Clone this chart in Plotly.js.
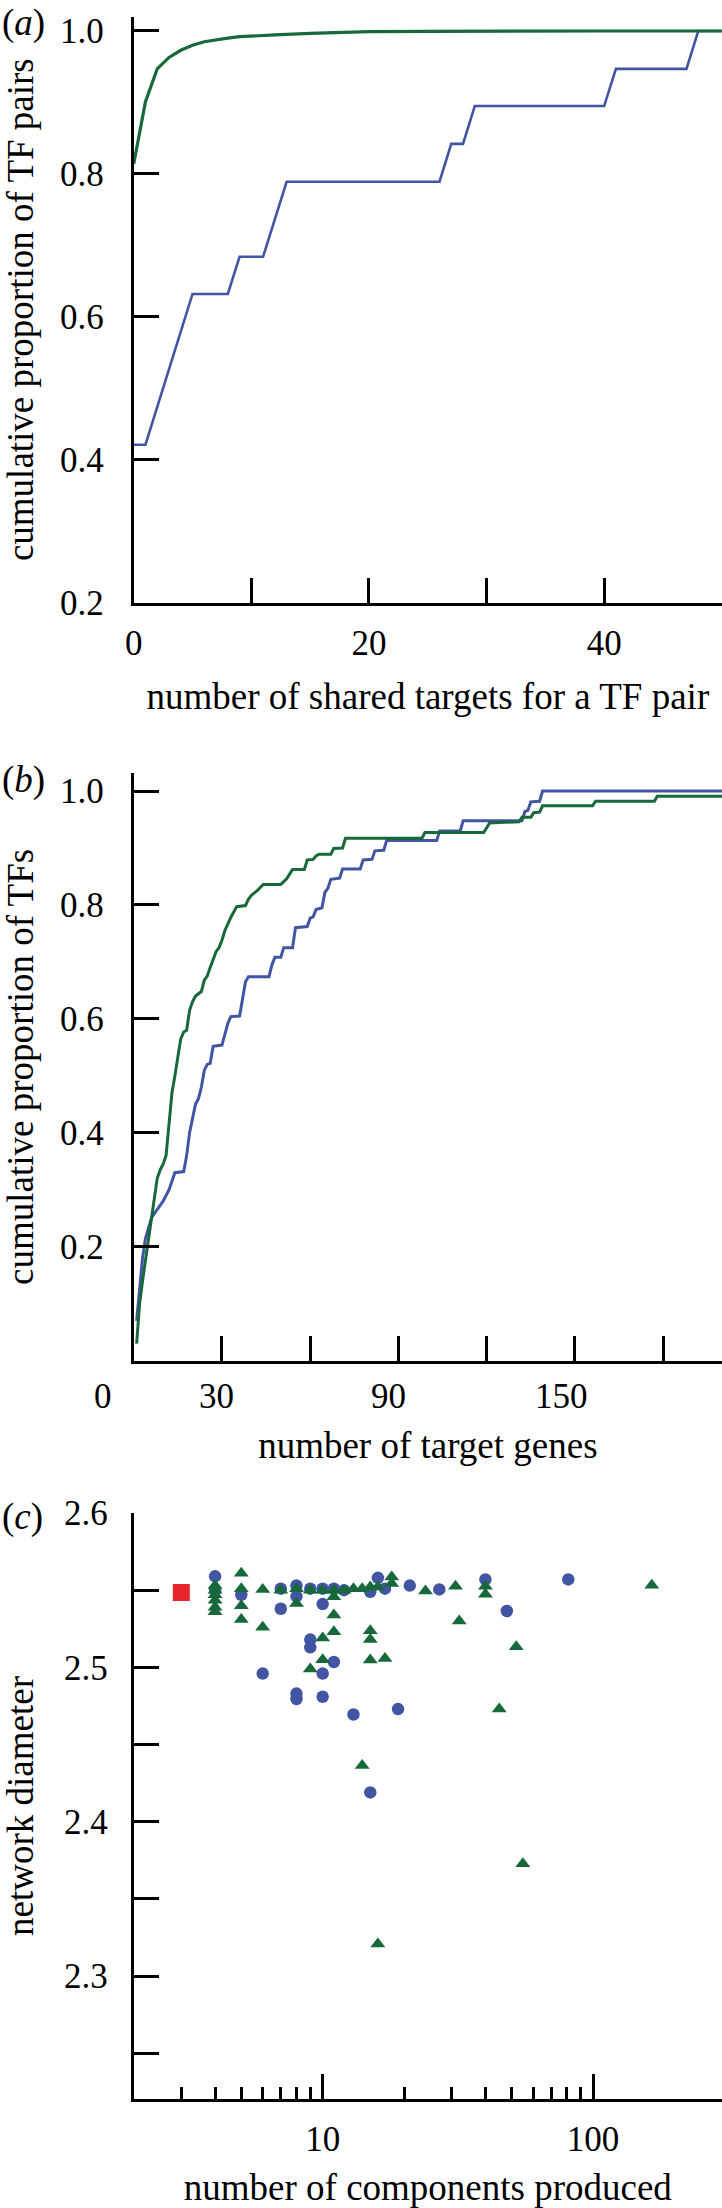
<!DOCTYPE html>
<html><head><meta charset="utf-8">
<script src="https://cdn.plot.ly/plotly-3.0.1.min.js"></script>
<style>html,body{margin:0;padding:0;background:#fff}#chart{width:722px;height:2208px}</style>
</head><body><div id="chart"></div>
<script>
// ---------- Panel (a): cumulative proportion of TF pairs ----------
const aBlueX  = [0, 1, 5, 8, 9, 11, 13, 26, 27, 28, 29, 40, 41, 47, 48, 50];
const aBlueY  = [0.421, 0.421, 0.632, 0.632, 0.684, 0.684, 0.789, 0.789, 0.842, 0.842, 0.895, 0.895, 0.947, 0.947, 1.0, 1.0];
const aGreenX = [0, 1, 2, 3, 4, 5, 6, 7, 8, 9, 10, 12, 15, 20, 25, 30, 40, 50];
const aGreenY = [0.814, 0.901, 0.947, 0.963, 0.973, 0.980, 0.985, 0.988, 0.990, 0.992, 0.993, 0.9945, 0.9967, 0.999, 0.9995, 1.0, 1.0, 1.0];
const aXTickVals = [0, 10, 20, 30, 40, 50];
const aXTickText = ["0", "", "20", "", "40", ""];
const aYTickVals = [0.2, 0.4, 0.6, 0.8, 1.0];
const aYTickText = ["0.2", "0.4", "0.6", "0.8", "1.0"];

// ---------- Panel (b): cumulative proportion of TFs ----------
const bBlueX = [1,2,3,4,5,6,7,8,10,11,12,13,14,17,18,19,20,21,22,23,24,25,26,27,30,31,32,33,36,37,38,39,46,47,48,50,51,54,55,59,60,61,62,64,65,66,67,70,71,77,78,81,82,85,86,103,104,111,112,132,133,134,135,138,139,200];
const bBlueY = [0.07,0.13,0.18,0.215,0.235,0.25,0.258,0.265,0.28,0.29,0.30,0.315,0.33,0.332,0.36,0.40,0.425,0.45,0.46,0.48,0.51,0.52,0.522,0.552,0.554,0.575,0.592,0.604,0.605,0.635,0.665,0.674,0.674,0.695,0.708,0.708,0.725,0.725,0.76,0.762,0.777,0.779,0.792,0.795,0.822,0.829,0.845,0.847,0.863,0.863,0.879,0.88,0.895,0.896,0.913,0.913,0.930,0.930,0.948,0.948,0.964,0.966,0.981,0.982,1.0,1.0];
const bGreenX = [1,2,3,4,5,6,7,8,9,10,11,12,13,14,15,16,17,18,19,20,21,23,24,25,26,27,28,29,30,31,32,33,35,38,39,40,42,43,44,50,51,52,53,54,58,59,61,62,63,67,68,71,72,98,99,119,121,131,132,135,136,138,139,156,157,177,178,200];
const bGreenY = [0.03,0.10,0.14,0.175,0.215,0.25,0.285,0.32,0.335,0.345,0.36,0.42,0.47,0.50,0.535,0.565,0.577,0.58,0.615,0.63,0.64,0.648,0.668,0.675,0.69,0.705,0.718,0.725,0.738,0.755,0.768,0.778,0.797,0.799,0.81,0.817,0.825,0.830,0.836,0.836,0.841,0.846,0.854,0.862,0.862,0.879,0.88,0.886,0.889,0.889,0.899,0.9,0.917,0.917,0.927,0.927,0.944,0.946,0.954,0.954,0.962,0.963,0.974,0.974,0.982,0.982,0.991,0.991];
const bXTickVals = [30, 60, 90, 120, 150, 180];
const bXLabelText = ["0", "30", "90", "150"];
const bXLabelAt   = [-10.6, 28.2, 86.7, 145.4];
const bYTickVals = [0.2, 0.4, 0.6, 0.8, 1.0];
const bYTickText = ["0.2", "0.4", "0.6", "0.8", "1.0"];

// ---------- Panel (c): network diameter vs number of components ----------
const cBlueX = [4,4,5,6,7,7,8,8,8,8,9,9,9,10,10,10,10,11,11,12,13,15,15,16,17,19,21,27,40,48,81];
const cBlueY = [2.559,2.55,2.547,2.496,2.551,2.538,2.553,2.546,2.483,2.4795,2.551,2.518,2.513,2.551,2.541,2.496,2.481,2.551,2.5035,2.55,2.4695,2.549,2.419,2.558,2.551,2.473,2.553,2.5505,2.557,2.5365,2.557];
const cGreenX = [4,4,4,4,4,4,5,5,5,5,6,6,7,8,8,9,9,10,10,10,11,11,11,11,12,13,14,14,15,15,15,15,16,16,17,18,18,24,31,32,40,40,45,52,55,165];
const cGreenY = [2.553,2.55,2.547,2.5435,2.539,2.536,2.561,2.551,2.540,2.531,2.5505,2.526,2.55,2.551,2.5414,2.55,2.499,2.55,2.519,2.505,2.55,2.5457,2.534,2.523,2.55,2.551,2.551,2.4364,2.552,2.5237,2.518,2.5047,2.552,2.3208,2.5058,2.5586,2.5543,2.5495,2.5526,2.530,2.5526,2.5474,2.473,2.5133,2.3728,2.5532];
const cRedX = [3];
const cRedY = [2.5485];
const cXTickVals = [10, 100];
const cXTickText = ["10", "100"];
const cXMinorVals = [3,4,5,6,7,8,9,20,30,40,50,60,70,80,90];
const cYTickVals = [2.25, 2.3, 2.35, 2.4, 2.45, 2.5, 2.55, 2.6];
const cYTickText = ["", "2.3", "", "2.4", "", "2.5", "", "2.6"];

// ---------- styling / geometry ----------
const W = 722, H = 2208;
const FONT = 'Liberation Serif, Times New Roman, Times, serif';
const BLUE = '#4255A2', GREEN = '#17683B', RED = '#E6262B';
const px = v => v / W;
const py = v => 1 - v / H;
const xDom = [px(133.7), 1];
const bRange = [0, 200];
const bPaperX = v => xDom[0] + (v - bRange[0]) / (bRange[1] - bRange[0]) * (xDom[1] - xDom[0]);

const tickFont = {family: FONT, size: 35, color: 'black'};
const titleFont = {family: FONT, size: 37, color: 'black'};
function ax(extra) {
  return Object.assign({
    showline: true, linecolor: 'black', linewidth: 3, mirror: false,
    ticks: 'inside', ticklen: 25, tickwidth: 3, tickcolor: 'black',
    showgrid: false, zeroline: false, automargin: false,
    tickfont: tickFont, ticklabelstandoff: 20, tickmode: 'array'
  }, extra);
}

const traces = [
  {x: aBlueX, y: aBlueY, xaxis: 'x', yaxis: 'y', mode: 'lines', line: {color: BLUE, width: 2.6}, showlegend: false},
  {x: aGreenX, y: aGreenY, xaxis: 'x', yaxis: 'y', mode: 'lines', line: {color: GREEN, width: 3.2}, showlegend: false},
  {x: bBlueX, y: bBlueY, xaxis: 'x2', yaxis: 'y2', mode: 'lines', line: {color: BLUE, width: 3}, showlegend: false},
  {x: bGreenX, y: bGreenY, xaxis: 'x2', yaxis: 'y2', mode: 'lines', line: {color: GREEN, width: 3}, showlegend: false},
  {x: cBlueX, y: cBlueY, xaxis: 'x3', yaxis: 'y3', mode: 'markers', marker: {symbol: 'circle', size: 12.5, color: BLUE}, showlegend: false, cliponaxis: false},
  {x: cGreenX, y: cGreenY, xaxis: 'x3', yaxis: 'y3', mode: 'markers', marker: {symbol: 'triangle-up', size: 13, color: GREEN}, showlegend: false, cliponaxis: false},
  {x: cRedX, y: cRedY, xaxis: 'x3', yaxis: 'y3', mode: 'markers', marker: {symbol: 'square', size: 17, color: RED}, showlegend: false, cliponaxis: false}
];

const annotations = [
  {text: '(<i>a</i>)', xref: 'paper', yref: 'paper', x: 0, y: py(23), xanchor: 'left', yanchor: 'middle', showarrow: false, font: titleFont},
  {text: '(<i>b</i>)', xref: 'paper', yref: 'paper', x: 0, y: py(780), xanchor: 'left', yanchor: 'middle', showarrow: false, font: titleFont},
  {text: '(<i>c</i>)', xref: 'paper', yref: 'paper', x: 0, y: py(1517), xanchor: 'left', yanchor: 'middle', showarrow: false, font: titleFont}
];
bXLabelText.forEach((t, i) => annotations.push({
  text: t, xref: 'paper', yref: 'paper', x: bPaperX(bXLabelAt[i]), y: py(1396.5),
  xanchor: 'center', yanchor: 'middle', showarrow: false, font: tickFont
}));

const layout = {
  width: W, height: H,
  margin: {l: 0, r: 0, t: 0, b: 0},
  paper_bgcolor: 'white', plot_bgcolor: 'white',
  showlegend: false,
  font: {family: FONT, color: 'black'},
  xaxis: ax({domain: xDom, anchor: 'y', range: [-0.001, 50.02], tickvals: aXTickVals, ticktext: aXTickText,
    ticklabelstandoff: 7,
    title: {text: 'number of shared targets for a TF pair', font: titleFont, standoff: 22}}),
  yaxis: ax({domain: [py(602.7), py(16.7)], anchor: 'x', range: [0.1999, 1.02], tickvals: aYTickVals, ticktext: aYTickText,
    title: {text: 'cumulative proportion of TF pairs', font: titleFont, standoff: 25}}),
  xaxis2: ax({domain: xDom, anchor: 'y2', range: bRange, tickvals: bXTickVals, showticklabels: false,
    title: {text: 'number of target genes', font: titleFont, standoff: 70}}),
  yaxis2: ax({domain: [py(1360.7), py(773)], anchor: 'x2', range: [0, 1.0316], tickvals: bYTickVals, ticktext: bYTickText,
    title: {text: 'cumulative proportion of TFs', font: titleFont, standoff: 25}}),
  xaxis3: ax({domain: xDom, anchor: 'y3', type: 'log', range: [Math.log10(2), Math.log10(300)], tickvals: cXTickVals, ticktext: cXTickText,
    ticklabelstandoff: 7,
    minor: {tickmode: 'array', tickvals: cXMinorVals, ticks: 'inside', ticklen: 12, tickwidth: 3, tickcolor: 'black', showgrid: false},
    title: {text: 'number of components produced', font: titleFont, standoff: 40}}),
  yaxis3: ax({domain: [py(2099.3), py(1512.7)], anchor: 'x3', range: [2.2202, 2.6002], tickvals: cYTickVals, ticktext: cYTickText,
    ticklabelstandoff: 16,
    title: {text: 'network diameter', font: titleFont, standoff: 30}}),
  annotations: annotations
};

Plotly.newPlot('chart', traces, layout, {displayModeBar: false, staticPlot: true});
</script>
</body></html>
